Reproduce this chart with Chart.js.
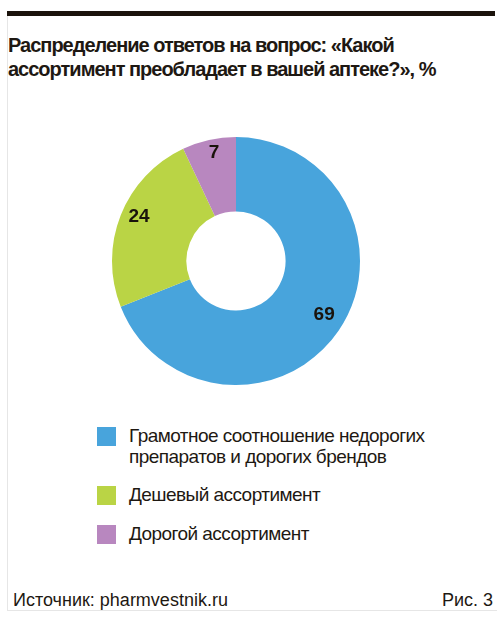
<!DOCTYPE html>
<html lang="ru">
<head>
<meta charset="utf-8">
<script src="https://cdn.jsdelivr.net/npm/chart.js@4.4.1/dist/chart.umd.min.js"></script>
<style>
  html, body { margin: 0; padding: 0; background: #fff; }
  #page { position: relative; width: 500px; height: 620px; overflow: hidden; font-family: "Liberation Sans", Arial, sans-serif; color: #1e1812; }
  #bar { position: absolute; left: 7px; top: 11px; width: 488px; height: 5px; background: #1b130c; }
  #frameL { position: absolute; left: 7px; top: 16px; width: 1px; height: 594px; background: #e6e6e6; }
  #frameB { position: absolute; left: 7px; top: 610px; width: 490px; height: 1px; background: #e6e6e6; }
  #title { position: absolute; left: 8px; top: 34px; width: 490px; font-weight: bold; font-size: 20px; letter-spacing: -1px; line-height: 23.5px; white-space: nowrap; }
  #chartBox { position: absolute; left: 112px; top: 137px; width: 248px; height: 248px; }
  #legend { position: absolute; left: 96px; top: 424.5px; width: 400px; display: flex; flex-direction: column; gap: 17.5px; }
  .item { position: relative; padding-left: 33px; font-size: 19px; letter-spacing: -0.55px; line-height: 21px; white-space: nowrap; }
  .sw { position: absolute; left: 1px; top: 2px; width: 19px; height: 19px; }
  #source { position: absolute; left: 13px; top: 588.5px; font-size: 18px; line-height: 22px; }
  #fig { position: absolute; right: 7px; top: 588.5px; font-size: 18px; line-height: 22px; }
</style>
</head>
<body>
<div id="page">
  <div id="bar"></div>
  <div id="frameL"></div>
  <div id="frameB"></div>
  <div id="title"></div>
  <div id="chartBox"><canvas id="c"></canvas></div>
  <div id="legend"></div>
  <div id="source"></div>
  <div id="fig"></div>
</div>
<script>
const titleLines = ["Распределение ответов на вопрос: «Какой", "ассортимент преобладает в вашей аптеке?», %"];
const categories = [
  ["Грамотное соотношение недорогих", "препаратов и дорогих брендов"],
  ["Дешевый ассортимент"],
  ["Дорогой ассортимент"]
];
const values = [69, 24, 7];
const colors = ["#48a4dc", "#bad445", "#b887bf"];
const sourceText = "Источник: pharmvestnik.ru";
const figText = "Рис. 3";

document.getElementById('title').innerHTML = titleLines.join('<br>');
document.getElementById('source').textContent = sourceText;
document.getElementById('fig').textContent = figText;

const labelPlugin = {
  id: 'sliceLabels',
  afterDatasetsDraw(chart) {
    const ctx = chart.ctx;
    const meta = chart.getDatasetMeta(0);
    ctx.save();
    ctx.font = 'bold 19px "Liberation Sans", Arial, sans-serif';
    ctx.fillStyle = '#1a130c';
    ctx.textAlign = 'center';
    ctx.textBaseline = 'middle';
    meta.data.forEach((arc, i) => {
      const p = arc.getProps(['x', 'y', 'startAngle', 'endAngle', 'innerRadius', 'outerRadius'], true);
      const a = (p.startAngle + p.endAngle) / 2;
      const r = p.innerRadius + 0.75 * (p.outerRadius - p.innerRadius);
      ctx.fillText(String(chart.data.datasets[0].data[i]), p.x + Math.cos(a) * r + 1, p.y + Math.sin(a) * r - 5);
    });
    ctx.restore();
  }
};

const chart = new Chart(document.getElementById('c'), {
  type: 'doughnut',
  data: {
    labels: categories,
    datasets: [{
      data: values,
      backgroundColor: colors,
      borderWidth: 0,
      hoverOffset: 0
    }]
  },
  options: {
    responsive: true,
    maintainAspectRatio: false,
    animation: false,
    cutout: '40%',
    layout: { padding: 0 },
    plugins: {
      legend: { display: false },
      tooltip: { enabled: false }
    }
  },
  plugins: [labelPlugin]
});

// HTML legend built from the chart's own data
const legendEl = document.getElementById('legend');
chart.data.labels.forEach((lab, i) => {
  const item = document.createElement('div');
  item.className = 'item';
  const sw = document.createElement('span');
  sw.className = 'sw';
  sw.style.background = chart.data.datasets[0].backgroundColor[i];
  item.appendChild(sw);
  const txt = document.createElement('span');
  txt.innerHTML = lab.join('<br>');
  item.appendChild(txt);
  legendEl.appendChild(item);
});
</script>
</body>
</html>
